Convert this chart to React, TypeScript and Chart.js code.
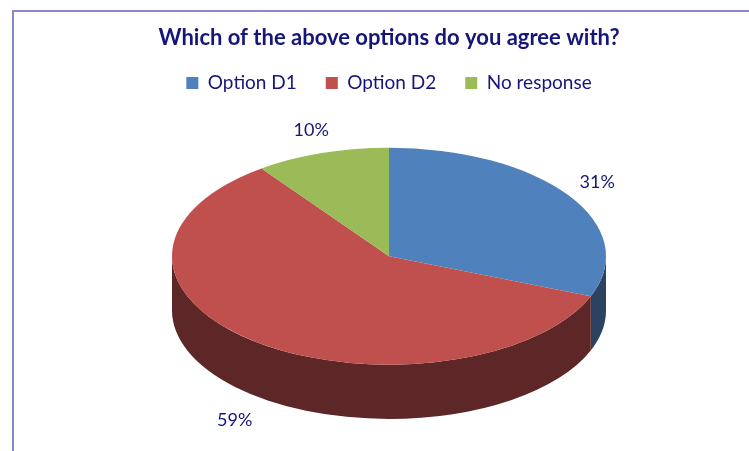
import React, { useEffect, useRef } from "react";
import { Chart, registerables } from "chart.js";

Chart.register(...registerables);

const TITLE = "Which of the above options do you agree with?";
const categories = ["Option D1", "Option D2", "No response"];
const shares = [31, 59, 10];
const topColors = ["#4f81bd", "#c0504d", "#9bbb59"];
const sideColors = ["#2b4361", "#5e2727", "#4e5f2c"];

const NAVY = "#15157a";
const FONT = "Lato, 'Open Sans', sans-serif";
const TILT = 0.5;
const DEPTH = 0.25;
const LABEL_FX = 1.16;
const LABEL_FY = 1.22;

const pie3d = {
  id: "pie3d",
  beforeDatasetsDraw(chart: any) {
    const arcs = chart.getDatasetMeta(0).data;
    chart.$tilted = false;
    if (!arcs.length) return;
    const { x: cx, y: cy, outerRadius: R } = arcs[0].getProps(["x", "y", "outerRadius"], true);
    const ry = R * TILT;
    const d = R * DEPTH;
    const ctx = chart.ctx;
    ctx.save();
    arcs.forEach((arc: any, i: number) => {
      const { startAngle: s, endAngle: e } = arc.getProps(["startAngle", "endAngle"], true);
      for (let k = -1; k <= 1; k++) {
        const lo = Math.max(s, 2 * Math.PI * k);
        const hi = Math.min(e, 2 * Math.PI * k + Math.PI);
        if (hi <= lo) continue;
        ctx.beginPath();
        ctx.ellipse(cx, cy, R, ry, 0, lo, hi, false);
        ctx.ellipse(cx, cy + d, R, ry, 0, hi, lo, true);
        ctx.closePath();
        ctx.fillStyle = sideColors[i];
        ctx.fill();
      }
    });
    ctx.restore();
    ctx.save();
    ctx.translate(cx, cy);
    ctx.scale(1, TILT);
    ctx.translate(-cx, -cy);
    chart.$tilted = true;
  },
  afterDatasetsDraw(chart: any) {
    if (!chart.$tilted) return;
    const ctx = chart.ctx;
    ctx.restore();
    chart.$tilted = false;
    const arcs = chart.getDatasetMeta(0).data;
    ctx.save();
    ctx.font = `18px ${FONT}`;
    ctx.fillStyle = NAVY;
    ctx.textAlign = "center";
    ctx.textBaseline = "middle";
    arcs.forEach((arc: any, i: number) => {
      const { x: cx, y: cy, outerRadius: R, startAngle: s, endAngle: e } = arc.getProps(
        ["x", "y", "outerRadius", "startAngle", "endAngle"],
        true
      );
      const a = (s + e) / 2;
      const sn = Math.sin(a);
      const lx = cx + R * LABEL_FX * Math.cos(a);
      const ly = cy + R * TILT * LABEL_FY * sn + (sn > 0 ? R * DEPTH * 1.1 : 0);
      ctx.fillText(`${shares[i]}%`, lx, ly);
    });
    ctx.restore();
  },
};

export default function App() {
  const ref = useRef<HTMLCanvasElement>(null);
  useEffect(() => {
    if (!ref.current) return;
    const chart = new Chart(ref.current, {
      type: "pie",
      data: {
        labels: categories,
        datasets: [
          {
            data: shares,
            backgroundColor: topColors,
            borderWidth: 0,
            clip: false as any,
          },
        ],
      },
      options: {
        responsive: false,
        animation: false,
        events: [],
        radius: 217,
        layout: { padding: { left: 29, right: 0, top: 0, bottom: 41 } },
        plugins: {
          title: {
            display: true,
            text: TITLE,
            color: NAVY,
            font: { family: FONT, size: 22, weight: "bold" },
            padding: { top: 25, bottom: -7 },
          },
          legend: {
            display: true,
            position: "top",
            labels: {
              boxWidth: 12,
              boxHeight: 12,
              padding: 29,
              color: NAVY,
              font: { family: FONT, size: 19 },
            },
          },
          tooltip: { enabled: false },
        },
      } as any,
      plugins: [pie3d],
    });
    return () => chart.destroy();
  }, []);
  return (
    <div
      style={{
        position: "fixed",
        left: 0,
        top: 0,
        width: 749,
        height: 451,
        overflow: "hidden",
        background: "#ffffff",
      }}
    >
      <div
        style={{
          position: "absolute",
          left: 12,
          top: 10,
          width: 800,
          height: 500,
          borderLeft: "2px solid #8a8ac2",
          borderTop: "2px solid #8a8ac2",
        }}
      />
      <canvas
        ref={ref}
        width={749}
        height={451}
        style={{ position: "absolute", left: 0, top: 0, width: 749, height: 451 }}
      />
    </div>
  );
}
